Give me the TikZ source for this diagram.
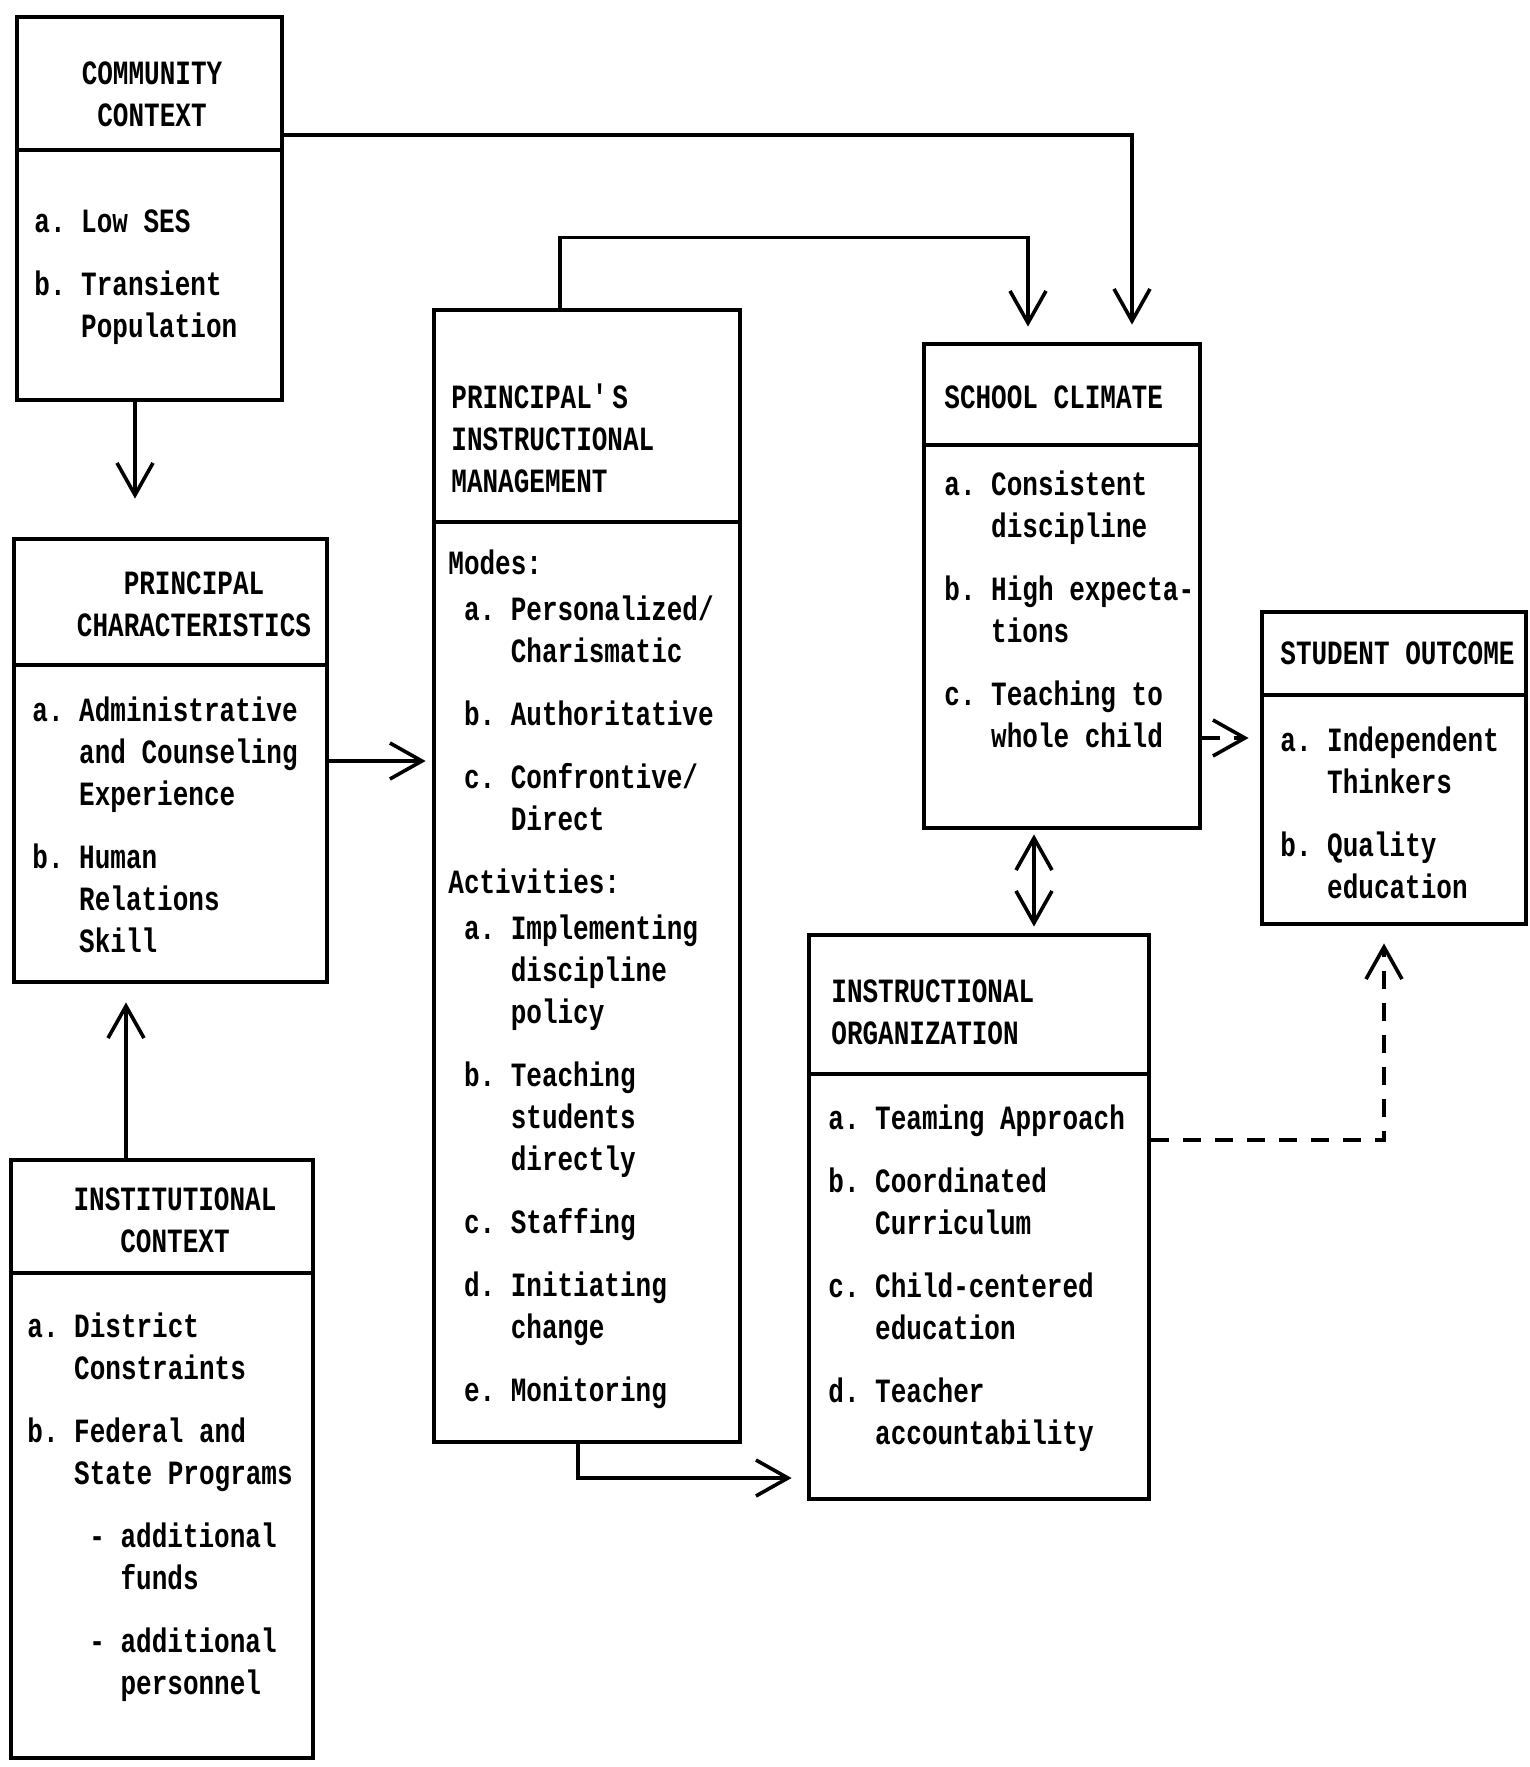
\documentclass[tikz,border=0pt]{standalone}
\usepackage{fontspec}
\setmainfont{Liberation Mono}[FakeStretch=0.765]
\usepackage{tikz}
\usetikzlibrary{arrows.meta,fit}

\newcommand{\indnt}{\hspace*{23.4pt}}
\newcommand{\onech}{\hspace*{7.8pt}}
\newcommand{\boxtext}[2][l]{\begin{tabular}[t]{@{}#1@{}}#2\end{tabular}}

\begin{document}
\begin{tikzpicture}[x=0.5pt,y=-0.5pt,>={Straight Barb[length=16pt,width=18pt]},
    font=\fontsize{17}{21}\selectfont\bfseries\frenchspacing,
    box/.style={draw,line width=2.4pt,inner sep=0pt},
    rule/.style={line width=2.4pt},
    txt/.style={inner sep=0pt},
    conn/.style={line width=1.8pt,->},
    dconn/.style={conn,dash pattern=on 9pt off 7pt}]
  \useasboundingbox (0,0) rectangle (1530,1767);

  % boxes
  \node[box,fit={(17,17) (282,400)}] (cc) {};
  \node[box,fit={(14,539) (327,982)}] (pc) {};
  \node[box,fit={(11,1160) (313,1758)}] (ic) {};
  \node[box,fit={(434,310) (740,1442)}] (pim) {};
  \node[box,fit={(924,344) (1200,828)}] (sc) {};
  \node[box,fit={(1262,612) (1526,924)}] (so) {};
  \node[box,fit={(809,935) (1149,1499)}] (io) {};

  % header rules
  \draw[rule] (cc.west |- 0,150) -- (cc.east |- 0,150);
  \draw[rule] (pc.west |- 0,665) -- (pc.east |- 0,665);
  \draw[rule] (ic.west |- 0,1273) -- (ic.east |- 0,1273);
  \draw[rule] (pim.west |- 0,522) -- (pim.east |- 0,522);
  \draw[rule] (sc.west |- 0,445) -- (sc.east |- 0,445);
  \draw[rule] (so.west |- 0,695) -- (so.east |- 0,695);
  \draw[rule] (io.west |- 0,1074) -- (io.east |- 0,1074);

  % headers
  \node[txt,anchor=base] (cchead) at (152,84) {\boxtext[c]{COMMUNITY\\CONTEXT}};
  \node[txt,anchor=base] (pchead) at (194,594) {\boxtext[c]{PRINCIPAL\\CHARACTERISTICS}};
  \node[txt,anchor=base] (ichead) at (175,1210) {\boxtext[c]{INSTITUTIONAL\\CONTEXT}};
  \node[txt,anchor=base west] (pimhead) at (451,408) {\boxtext{PRINCIPAL\textquotesingle S\\INSTRUCTIONAL\\MANAGEMENT}};
  \node[txt,anchor=base west] (schead) at (944,408) {SCHOOL CLIMATE};
  \node[txt,anchor=base west] (sohead) at (1280,664) {STUDENT OUTCOME};
  \node[txt,anchor=base west] (iohead) at (831,1002) {\boxtext{INSTRUCTIONAL\\ORGANIZATION}};

  % items
  \node[txt,anchor=base west] (ccbody) at (34,232) {\boxtext{a. Low SES\\[10.5pt]
    b. Transient\\ \indnt Population}};
  \node[txt,anchor=base west] (pcbody) at (32,721) {\boxtext{a. Administrative\\
    \indnt and Counseling\\ \indnt Experience\\[10.5pt]
    b. Human\\ \indnt Relations\\ \indnt Skill}};
  \node[txt,anchor=base west] (icbody) at (27,1337) {\boxtext{a. District\\
    \indnt Constraints\\[10.5pt]
    b. Federal and\\ \indnt State Programs\\[10.5pt]
    \hspace*{31pt}- additional\\ \hspace*{46.6pt}funds\\[10.5pt]
    \hspace*{31pt}- additional\\ \hspace*{46.6pt}personnel}};
  \node[txt,anchor=base west] (pimbody) at (448,574) {\boxtext{Modes:\\[2pt]
    \onech a. Personalized/\\ \onech\indnt Charismatic\\[10.5pt]
    \onech b. Authoritative\\[10.5pt]
    \onech c. Confrontive/\\ \onech\indnt Direct\\[10.5pt]
    Activities:\\[2pt]
    \onech a. Implementing\\ \onech\indnt discipline\\ \onech\indnt policy\\[10.5pt]
    \onech b. Teaching\\ \onech\indnt students\\ \onech\indnt directly\\[10.5pt]
    \onech c. Staffing\\[10.5pt]
    \onech d. Initiating\\ \onech\indnt change\\[10.5pt]
    \onech e. Monitoring}};
  \node[txt,anchor=base west] (scbody) at (944,495) {\boxtext{a. Consistent\\
    \indnt discipline\\[10.5pt]
    b. High expecta-\\ \indnt tions\\[10.5pt]
    c. Teaching to\\ \indnt whole child}};
  \node[txt,anchor=base west] (sobody) at (1280,751) {\boxtext{a. Independent\\
    \indnt Thinkers\\[10.5pt]
    b. Quality\\ \indnt education}};
  \node[txt,anchor=base west] (iobody) at (828,1129) {\boxtext{a. Teaming Approach\\[10.5pt]
    b. Coordinated\\ \indnt Curriculum\\[10.5pt]
    c. Child-centered\\ \indnt education\\[10.5pt]
    d. Teacher\\ \indnt accountability}};

  % links
  \draw[conn,shorten >=8.5pt] (cc.east |- 0,135) -| (sc.north -| 1132,0);
  \draw[conn,shorten >=7.5pt] (pim.north -| 560,0) -- ++(0,-70) -| (sc.north -| 1028,0);
  \draw[conn,shorten >=19pt] (cc.south -| 135,0) -- (pc.north -| 135,0);
  \draw[conn,shorten >=9pt] (ic.north -| 126,0) -- (pc.south -| 126,0);
  \draw[conn,shorten >=3pt] (pc.east |- 0,761) -- (pim.west |- 0,761);
  \draw[conn,shorten >=7.5pt] (pim.south -| 578,0) |- (io.west |- 0,1478);
  \draw[conn,<->,shorten <=2pt,shorten >=3pt] (sc.south -| 1034,0) -- (io.north -| 1034,0);
  \draw[dconn,shorten >=5.5pt] (sc.east |- 0,738) -- (so.west |- 0,738);
  \draw[dconn,shorten >=8.5pt] (io.east |- 0,1140) -| (so.south -| 1384,0);
\end{tikzpicture}
\end{document}
